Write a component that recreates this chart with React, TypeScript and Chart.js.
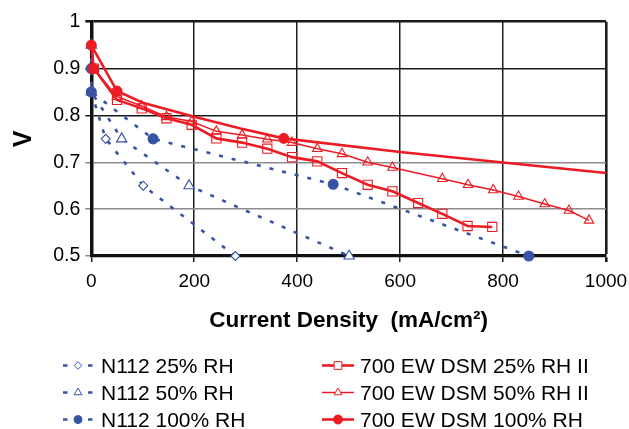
import React, { useEffect, useRef } from "react";
import { Chart, registerables } from "chart.js";

Chart.register(...registerables);

// ---------------- data ----------------
const seriesLabels = [
  "N112 25% RH",
  "N112 50% RH",
  "N112 100% RH",
  "700 EW DSM 25% RH II",
  "700 EW DSM 50% RH II",
  "700 EW DSM 100% RH",
];

const n112Rh25X = [0, 28, 101, 280];
const n112Rh25Y = [0.85, 0.75, 0.65, 0.5];

const n112Rh50X = [0, 0, 59, 190, 501];
const n112Rh50Y = [0.95, 0.85, 0.75, 0.65, 0.5];

const n112Rh100X = [0, 0, 120, 470, 850];
const n112Rh100Y = [0.9, 0.85, 0.75, 0.653, 0.5];

const dsmRh25X = [5, 50, 98, 146, 195, 243, 293, 342, 390, 439, 487, 537, 585, 635, 682, 731, 779];
const dsmRh25Y = [0.9, 0.833, 0.815, 0.794, 0.78, 0.751, 0.742, 0.729, 0.711, 0.702, 0.677, 0.652, 0.638, 0.613, 0.59, 0.564, 0.562];

const dsmRh50X = [5, 50, 98, 146, 195, 243, 293, 342, 390, 439, 487, 537, 585, 682, 732, 781, 830, 881, 928, 967];
const dsmRh50Y = [0.9, 0.84, 0.82, 0.797, 0.787, 0.766, 0.758, 0.749, 0.742, 0.729, 0.718, 0.7, 0.689, 0.665, 0.652, 0.641, 0.627, 0.611, 0.597, 0.576];

const dsmRh100X = [5, 0, 50, 100, 200, 290, 374, 600, 1000];
const dsmRh100Y = [0.9, 0.95, 0.852, 0.827, 0.797, 0.772, 0.751, 0.722, 0.677];
const dsmRh100Marked = [true, true, true, false, false, false, true, false, false];

const xMin = 0;
const xMax = 1000;
const xStep = 200;
const yMin = 0.5;
const yMax = 1;
const yStep = 0.1;

const xTitle = "Current Density  (mA/cm\u00B2)";
const yTitle = "V";

// ---------------- styles ----------------
const BLUE = "#3953a4";
const RED = "#ed1c24";
const FONT = "'Liberation Sans', Arial, Helvetica, sans-serif";

const pts = (xs: number[], ys: number[]) => xs.map((x, i) => ({ x, y: ys[i] }));

function drawMarker(
  ctx: CanvasRenderingContext2D,
  style: string,
  x: number,
  y: number,
  r: number,
  stroke: string,
  fill: string,
  lw: number
) {
  ctx.save();
  ctx.beginPath();
  ctx.lineWidth = lw;
  ctx.strokeStyle = stroke;
  ctx.fillStyle = fill;
  if (style === "circle") {
    ctx.arc(x, y, r, 0, Math.PI * 2);
  } else if (style === "rectRot") {
    ctx.moveTo(x, y - r);
    ctx.lineTo(x + r, y);
    ctx.lineTo(x, y + r);
    ctx.lineTo(x - r, y);
    ctx.closePath();
  } else if (style === "triangle") {
    for (let k = 0; k < 3; k++) {
      const a = (k * 2 * Math.PI) / 3;
      const px = x + Math.sin(a) * r;
      const py = y - Math.cos(a) * r;
      if (k === 0) ctx.moveTo(px, py);
      else ctx.lineTo(px, py);
    }
    ctx.closePath();
  } else {
    const s = r * Math.SQRT1_2;
    ctx.rect(x - s, y - s, 2 * s, 2 * s);
  }
  ctx.fill();
  ctx.stroke();
  ctx.restore();
}

const legendPlugin = {
  id: "twoColumnLegend",
  afterDraw(chart: any) {
    const ctx: CanvasRenderingContext2D = chart.ctx;
    const ds = chart.data.datasets;
    const baselines = [373, 400, 427];
    ctx.save();
    ctx.font = `21px ${FONT}`;
    ctx.textBaseline = "alphabetic";
    ctx.textAlign = "left";
    for (let i = 0; i < ds.length; i++) {
      const d = ds[i];
      const col = i < 3 ? 0 : 1;
      const row = i % 3;
      const by = baselines[row];
      const my = by - 7.5;
      const bg = d.pointBackgroundColor === "transparent" ? "#fff" : d.pointBackgroundColor;
      const lr = d.legendRadius;
      if (col === 0) {
        ctx.save();
        ctx.strokeStyle = d.borderColor;
        ctx.lineWidth = 2.4;
        ctx.beginPath();
        ctx.moveTo(63, my);
        ctx.lineTo(67.5, my);
        ctx.moveTo(88, my);
        ctx.lineTo(92.5, my);
        ctx.stroke();
        ctx.restore();
        drawMarker(ctx, d.pointStyle, 78, my, lr, d.pointBorderColor, bg, 1);
        ctx.fillStyle = "#000";
        ctx.fillText(d.label, 101, by);
      } else {
        ctx.save();
        ctx.strokeStyle = d.borderColor;
        ctx.lineWidth = d.borderWidth;
        ctx.beginPath();
        ctx.moveTo(322, my);
        ctx.lineTo(354, my);
        ctx.stroke();
        ctx.restore();
        drawMarker(ctx, d.pointStyle, 338, my, lr, d.pointBorderColor, bg, 1);
        ctx.fillStyle = "#000";
        ctx.fillText(d.label, 360, by);
      }
    }
    ctx.restore();
  },
};

export default function App() {
  const ref = useRef<HTMLCanvasElement | null>(null);

  useEffect(() => {
    const canvas = ref.current;
    if (!canvas) return;

    const blueBase = {
      borderColor: BLUE,
      borderWidth: 2.6,
      borderDash: [4, 9],
      borderCapStyle: "butt",
      pointBorderColor: BLUE,
      pointBorderWidth: 1.1,
      tension: 0,
      clip: 10,
      fill: false,
    };

    const chart = new Chart(canvas, {
      type: "line",
      data: {
        datasets: [
          {
            ...blueBase,
            label: seriesLabels[0],
            data: pts(n112Rh25X, n112Rh25Y),
            pointStyle: "rectRot",
            pointRadius: 4.5,
            pointBackgroundColor: "#ffffff",
            legendRadius: 3.8,
            order: 5,
          },
          {
            ...blueBase,
            label: seriesLabels[1],
            data: pts(n112Rh50X, n112Rh50Y),
            pointStyle: "triangle",
            pointRadius: 6,
            pointBackgroundColor: "#ffffff",
            legendRadius: 4.5,
            order: 4,
          },
          {
            ...blueBase,
            label: seriesLabels[2],
            data: pts(n112Rh100X, n112Rh100Y),
            pointStyle: "circle",
            pointRadius: 5,
            pointBackgroundColor: BLUE,
            legendRadius: 4,
            order: 3,
          },
          {
            label: seriesLabels[3],
            data: pts(dsmRh25X, dsmRh25Y),
            borderColor: RED,
            borderWidth: 2.6,
            pointStyle: "rect",
            pointRadius: 6.5,
            pointBorderWidth: 1.1,
            pointBorderColor: RED,
            pointBackgroundColor: "transparent",
            legendRadius: 5.5,
            tension: 0,
            clip: 10,
            order: 1,
          },
          {
            label: seriesLabels[4],
            data: pts(dsmRh50X, dsmRh50Y),
            borderColor: RED,
            borderWidth: 1.5,
            pointStyle: "triangle",
            pointRadius: 5.5,
            pointBorderWidth: 1.1,
            pointBorderColor: RED,
            pointBackgroundColor: "transparent",
            legendRadius: 4.5,
            tension: 0,
            clip: 10,
            order: 2,
          },
          {
            label: seriesLabels[5],
            data: pts(dsmRh100X, dsmRh100Y),
            borderColor: RED,
            borderWidth: 2.6,
            pointStyle: "circle",
            pointRadius: dsmRh100Marked.map((m) => (m ? 5 : 0)),
            pointBorderWidth: 1,
            pointBorderColor: RED,
            pointBackgroundColor: RED,
            legendRadius: 4.5,
            tension: 0,
            clip: 10,
            order: 0,
          },
        ] as any,
      },
      options: {
        animation: false,
        responsive: false,
        events: [],
        layout: { padding: { left: 0, right: 23, top: 21.7, bottom: 95 } },
        plugins: {
          legend: { display: false },
          tooltip: { enabled: false },
        },
        scales: {
          x: {
            type: "linear",
            min: xMin,
            max: xMax,
            ticks: {
              stepSize: xStep,
              padding: 8,
              color: "#000",
              font: { family: FONT, size: 19 },
              maxRotation: 0,
              callback: (v: any) => String(Math.round(Number(v))),
            },
            grid: {
              color: "#1e1e1e",
              lineWidth: (c: any) => (c.tick && c.tick.value === xMax ? 2.6 : 1.5),
              tickLength: 6,
            },
            border: { color: "#111", width: 3.2 },
            title: {
              display: true,
              text: xTitle,
              color: "#000",
              font: { family: FONT, size: 22.5, weight: "bold" },
              padding: { top: 0, bottom: 0 },
            },
            afterFit: (s: any) => {
              s.height = 78;
              s.paddingLeft = 0;
              s.paddingRight = 0;
            },
          },
          y: {
            type: "linear",
            min: yMin,
            max: yMax,
            ticks: {
              stepSize: yStep,
              padding: 5,
              color: "#000",
              font: { family: FONT, size: 19.5 },
              callback: (v: any) => String(Math.round(Number(v) * 10) / 10),
            },
            grid: {
              color: (c: any) =>
                c.tick && c.tick.value > 0.75 ? "#1a1a1a" : "#8c8c8c",
              lineWidth: (c: any) =>
                c.tick && Math.abs(c.tick.value - yMax) < 1e-6 ? 2.6 : 1.5,
              tickLength: 6,
            },
            border: { color: "#111", width: 3.5 },
            title: {
              display: true,
              text: yTitle,
              color: "#000",
              font: { family: FONT, size: 25, weight: "bold" },
              padding: { top: 9, bottom: 0 },
            },
            afterFit: (s: any) => {
              s.width = 91.3;
              s.paddingTop = 0;
              s.paddingBottom = 0;
            },
          },
        },
      } as any,
      plugins: [legendPlugin],
    });

    return () => {
      chart.destroy();
    };
  }, []);

  return (
    <div
      style={{
        position: "fixed",
        left: 0,
        top: 0,
        width: 629,
        height: 429,
        background: "#fff",
      }}
    >
      <canvas ref={ref} width={629} height={429} style={{ width: 629, height: 429, display: "block" }} />
    </div>
  );
}
